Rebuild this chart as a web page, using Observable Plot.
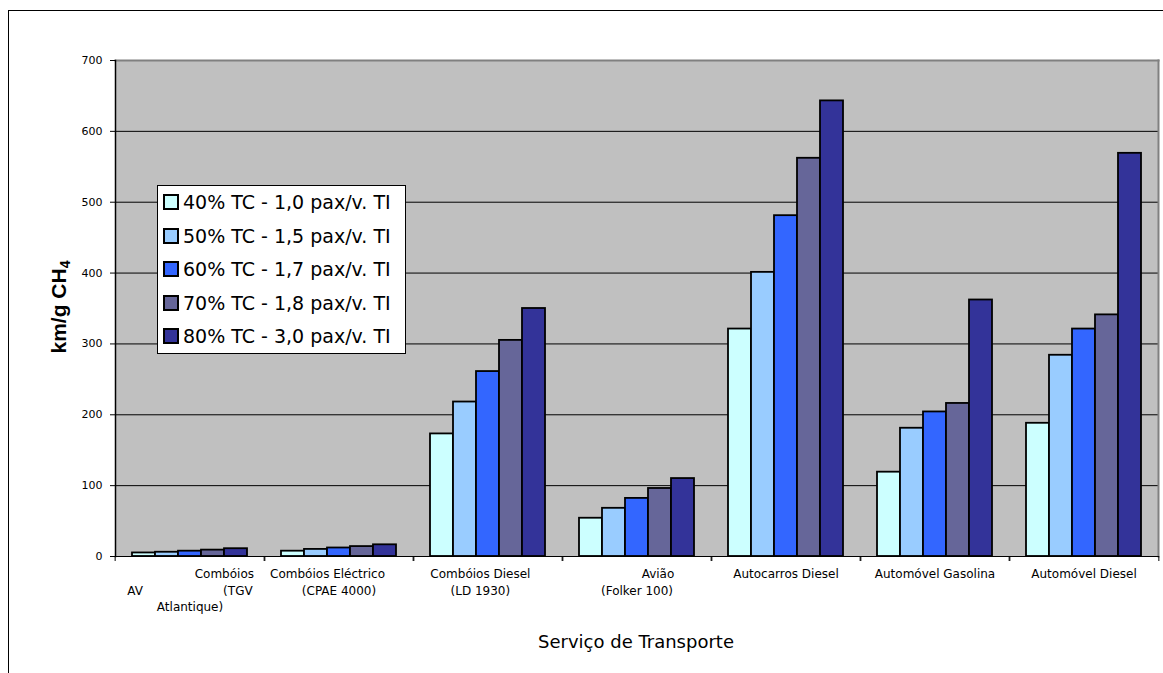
<!DOCTYPE html>
<html>
<head>
<meta charset="utf-8">
<script src="https://cdn.jsdelivr.net/npm/d3@7"></script>
<script src="https://cdn.jsdelivr.net/npm/@observablehq/plot@0.6"></script>
<style>
  html, body { margin: 0; padding: 0; background: #fff; }
  #page { position: relative; width: 1163px; height: 673px; overflow: hidden; background: #fff; }
  #outer { position: absolute; left: 8px; top: 10px; width: 1300px; height: 800px; border: 1px solid #000; }
  #chart { position: absolute; left: 0; top: 0; }
  #ytitle {
    position: absolute; left: 59px; top: 307px;
    transform: translate(-50%, -50%) rotate(-90deg);
    font-family: "Liberation Sans", Arial, sans-serif; font-weight: bold; font-size: 21px;
    white-space: nowrap; color: #000;
  }
  #ytitle sub { font-size: 14px; vertical-align: -4px; line-height: 0; }
  #xtitle {
    position: absolute; left: 636px; top: 641px; transform: translate(-50%, -50%);
    font-family: "DejaVu Sans", sans-serif; font-size: 18px; white-space: nowrap; color: #000;
  }
  #legend {
    position: absolute; left: 157px; top: 185px; width: 249px; height: 169px;
    background: #fff; border: 1px solid #000; box-sizing: border-box;
    font-family: "DejaVu Sans", sans-serif; font-size: 19px; color: #000;
  }
  #legend .row { position: absolute; left: 5px; height: 22px; display: flex; align-items: center; white-space: nowrap; }
  #legend .sw { width: 12px; height: 12px; border: 2px solid #000; margin-right: 4px; flex: none; }
</style>
</head>
<body>
<div id="page">
  <div id="outer"></div>
  <div id="chart"></div>
  <div id="ytitle">km/g CH<sub>4</sub></div>
  <div id="xtitle">Serviço de Transporte</div>
  <div id="legend"></div>
</div>
<script>
// Transport services (categories) and their wrapped axis labels
const categories = [
  "AV Combóios (TGV Atlantique)",
  "Combóios Eléctrico (CPAE 4000)",
  "Combóios Diesel (LD 1930)",
  "Avião (Folker 100)",
  "Autocarros Diesel",
  "Automóvel Gasolina",
  "Automóvel Diesel"
];
const nb = n => "\u00a0".repeat(n);
const categoryLabels = [
  nb(18) + "Combóios\nAV" + nb(21) + "(TGV\nAtlantique)",
  "Combóios Eléctrico" + nb(6) + "\n(CPAE 4000)",
  "Combóios Diesel" + nb(4) + "\n(LD 1930)" + nb(4),
  nb(11) + "Avião\n(Folker 100)",
  "Autocarros Diesel",
  "Automóvel Gasolina",
  "Automóvel Diesel"
];

// Occupancy scenarios (series)
const series = [
  "40% TC - 1,0 pax/v. TI",
  "50% TC - 1,5 pax/v. TI",
  "60% TC - 1,7 pax/v. TI",
  "70% TC - 1,8 pax/v. TI",
  "80% TC - 3,0 pax/v. TI"
];
const seriesColors = ["#ccffff", "#99ccff", "#3366ff", "#666699", "#333399"];

// km per g of CH4, one value per category
const v40 = [5, 7.5, 173, 54, 321, 119, 188];
const v50 = [6, 10, 218, 68, 401, 181, 284];
const v60 = [7.5, 12, 261, 82, 481, 204, 321];
const v70 = [9, 14, 305, 96, 562, 216, 341];
const v80 = [11, 16.5, 350, 110, 643, 362, 569];

const yTicks = [0, 100, 200, 300, 400, 500, 600, 700];
const gridTicks = [100, 200, 300, 400, 500, 600];

const valuesBySeries = [v40, v50, v60, v70, v80];
const rows = [];
categories.forEach((cat, i) => {
  series.forEach((s, j) => rows.push({cat, series: s, value: valuesBySeries[j][i]}));
});

const W = 1163, H = 673, mL = 112, mR = 3, mT = 60, mB = 117;
const step = (W - mL - mR) / categories.length;

const chart = Plot.plot({
  width: W,
  height: H,
  marginLeft: mL,
  marginRight: mR,
  marginTop: mT,
  marginBottom: mB,
  style: {background: "transparent", fontFamily: "DejaVu Sans, sans-serif", fontSize: "11px", color: "#000"},
  fx: {domain: categories, padding: 0, label: null},
  x: {domain: series, paddingInner: 0, paddingOuter: 0.7, axis: null},
  y: {domain: [0, 700], axis: null},
  color: {domain: series, range: seriesColors},
  marks: [
    // one grey panel spanning all the category facets
    Plot.frame({facet: "super", fill: "#c0c0c0", stroke: null}),
    Plot.gridY(gridTicks, {stroke: "#000", strokeOpacity: 1, strokeWidth: 1}),
    Plot.frame({facet: "super", anchor: "top", stroke: "#808080", strokeWidth: 2}),
    Plot.frame({facet: "super", anchor: "right", stroke: "#808080", strokeWidth: 2}),
    Plot.barY(rows, {fx: "cat", x: "series", y: "value", fill: "series", stroke: "#000", strokeWidth: 1.8}),
    Plot.frame({facet: "super", anchor: "bottom", stroke: "#000", strokeWidth: 1}),
    Plot.frame({facet: "super", anchor: "left", stroke: "#000", strokeWidth: 1.5}),
    Plot.axisY(yTicks, {tickSize: 5, tickPadding: 8, fontSize: 11, label: null, stroke: "#000"}),
    Plot.axisFx({anchor: "bottom", tickSize: 5, tickFormat: () => "", dx: -step / 2, label: null}),
    Plot.axisFx({anchor: "bottom", tickSize: 5, tickFormat: () => "", dx: step / 2, label: null}),
    Plot.axisFx({anchor: "bottom", tickSize: 0, tickPadding: 10, fontSize: 12, lineHeight: 1.38,
                 tickFormat: d => categoryLabels[categories.indexOf(d)], label: null})
  ]
});
document.getElementById("chart").append(chart);

// Legend built from the same series and colours
const legend = document.getElementById("legend");
series.forEach((s, j) => {
  const row = document.createElement("div");
  row.className = "row";
  row.style.top = (5 + j * 33.5) + "px";
  const sw = document.createElement("span");
  sw.className = "sw";
  sw.style.background = seriesColors[j];
  const label = document.createElement("span");
  label.textContent = s;
  row.append(sw, label);
  legend.append(row);
});
</script>
</body>
</html>
